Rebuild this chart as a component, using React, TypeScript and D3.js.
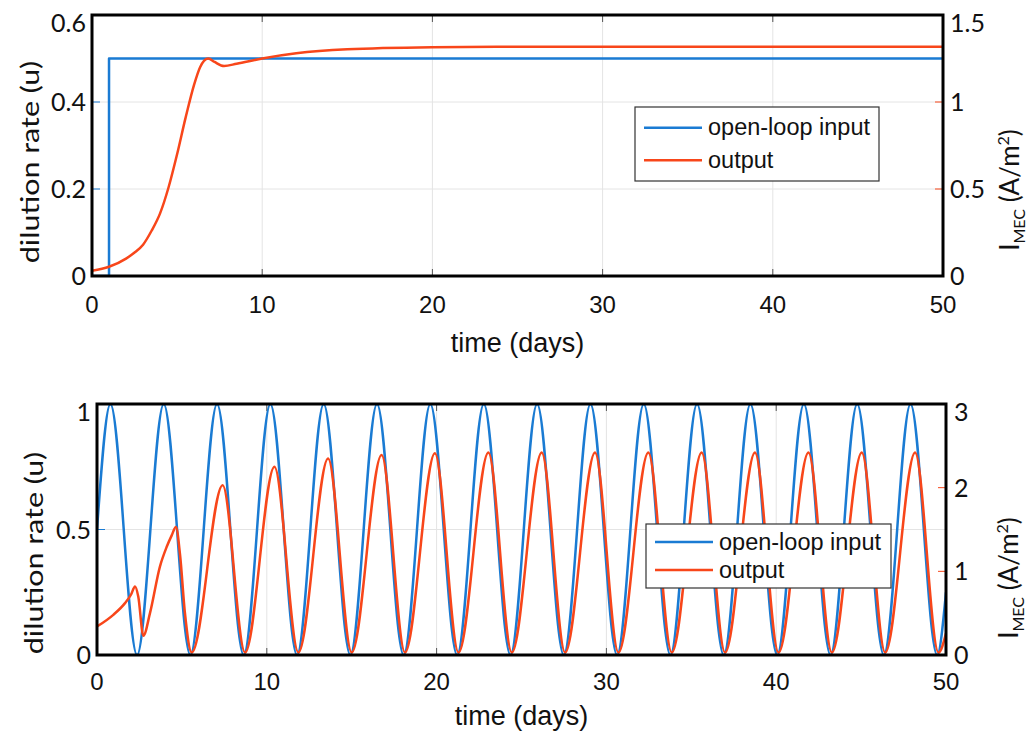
import React from 'react';
import * as d3 from 'd3';

// ---------- data ----------
const timeTicks = [0, 10, 20, 30, 40, 50];
const topLeftTicks = [0, 0.2, 0.4, 0.6];
const topRightTicks = [0, 0.5, 1, 1.5];
const botLeftTicks = [0, 0.5, 1];
const botRightTicks = [0, 1, 2, 3];
const legendLabels = ['open-loop input', 'output'];

// top panel: step input (dilution rate) and output (I_MEC)
const stepTimes = [0, 1, 1, 50];
const stepInput = [0, 0, 0.5, 0.5];
const stepOutTimes = [0, 1, 2, 2.5, 3, 3.5, 4, 4.5, 5, 5.5, 6, 6.35, 6.83, 7.2, 7.76, 8.5, 10, 12, 15, 20, 25, 30, 40, 50];
const stepOutput = [0.03, 0.053, 0.1, 0.135, 0.18, 0.26, 0.36, 0.51, 0.7, 0.91, 1.1, 1.2, 1.25, 1.23, 1.207, 1.22, 1.25, 1.28, 1.303, 1.315, 1.318, 1.318, 1.318, 1.318];

// bottom panel: sinusoidal input, extrema
const sineTimes = [0, 0.79, 2.36, 3.93, 5.5, 7.07, 8.64, 10.21, 11.78, 13.35, 14.92, 16.49, 18.06, 19.63, 21.21, 22.78, 24.35, 25.92, 27.49, 29.06, 30.63, 32.2, 33.77, 35.34, 36.91, 38.48, 40.06, 41.63, 43.2, 44.77, 46.34, 47.91, 49.48, 50];
const sineInput = [0.5, 1, 0, 1, 0, 1, 0, 1, 0, 1, 0, 1, 0, 1, 0, 1, 0, 1, 0, 1, 0, 1, 0, 1, 0, 1, 0, 1, 0, 1, 0, 1, 0, 0.25];
const sineOutTimes = [0, 0.96, 1.65, 2.0, 2.24, 2.43, 2.73, 3.12, 3.71, 4.1, 4.4, 4.65, 4.89, 5.18, 5.58, 7.4, 8.72, 10.45, 11.86, 13.61, 15.0, 16.76, 18.14, 19.9, 21.29, 23.05, 24.43, 26.19, 27.57, 29.33, 30.71, 32.47, 33.85, 35.61, 36.99, 38.75, 40.14, 41.9, 43.28, 45.04, 46.42, 48.18, 49.56, 50];
const sineOutput = [0.34, 0.48, 0.62, 0.72, 0.82, 0.7, 0.23, 0.5, 1.06, 1.29, 1.43, 1.53, 1.2, 0.5, 0.03, 2.03, 0.03, 2.25, 0.03, 2.35, 0.03, 2.39, 0.03, 2.41, 0.03, 2.42, 0.03, 2.42, 0.03, 2.42, 0.03, 2.42, 0.03, 2.42, 0.03, 2.42, 0.03, 2.42, 0.03, 2.42, 0.03, 2.42, 0.03, 0.26];

// ---------- styles ----------
const BLUE = '#1a7bd3';
const ORANGE = '#f8461a';
const GRID = '#e4e4e4';

type PanelProps = {
  id: string;
  x0: number; x1: number; y0: number; y1: number;
  leftMax: number; rightMax: number;
  leftTicks: number[]; rightTicks: number[];
  inT: number[]; inV: number[]; inCurve: any;
  outT: number[]; outV: number[];
  legend: { x: number; y: number; w: number; h: number };
  xTickBase: number; xLabelBase: number;
  yLabelX: number; yLabelCy: number; rLabelX: number; rLabelCy: number;
  leftGap: number; rightGap: number;
};

function Panel(p: PanelProps) {
  const x = d3.scaleLinear().domain([0, 50]).range([p.x0, p.x1]);
  const yl = d3.scaleLinear().domain([0, p.leftMax]).range([p.y1, p.y0]);
  const yr = d3.scaleLinear().domain([0, p.rightMax]).range([p.y1, p.y0]);
  const inPts = p.inT.map((t, i) => [t, p.inV[i]] as [number, number]);
  const outPts = p.outT.map((t, i) => [t, p.outV[i]] as [number, number]);
  const inLine = d3.line<[number, number]>().x(d => x(d[0])).y(d => yl(d[1])).curve(p.inCurve);
  const outLine = d3.line<[number, number]>().x(d => x(d[0])).y(d => yr(d[1])).curve(d3.curveMonotoneX);
  const tickFont = 'Lato, "Open Sans", sans-serif';
  const sansFont = '"Liberation Sans", Arial, sans-serif';
  const clampY = (v: number) => Math.max(v, p.y0 + 8);
  return (
    <g>
      <defs>
        <clipPath id={p.id}>
          <rect x={p.x0} y={p.y0} width={p.x1 - p.x0} height={p.y1 - p.y0} />
        </clipPath>
      </defs>
      <rect x={p.x0} y={p.y0} width={p.x1 - p.x0} height={p.y1 - p.y0} fill="#fff" />
      {timeTicks.slice(1, -1).map(t => (
        <line key={'gx' + t} x1={x(t)} x2={x(t)} y1={p.y0} y2={p.y1} stroke={GRID} strokeWidth={1} />
      ))}
      {p.leftTicks.slice(1, -1).map(v => (
        <line key={'gy' + v} x1={p.x0} x2={p.x1} y1={yl(v)} y2={yl(v)} stroke={GRID} strokeWidth={1} />
      ))}
      {timeTicks.slice(1, -1).map(t => (
        <g key={'tx' + t}>
          <line x1={x(t)} x2={x(t)} y1={p.y1} y2={p.y1 - 7} stroke="#555" strokeWidth={1} />
          <line x1={x(t)} x2={x(t)} y1={p.y0} y2={p.y0 + 7} stroke="#555" strokeWidth={1} />
        </g>
      ))}
      {p.leftTicks.map(v => (
        <line key={'tl' + v} x1={p.x0} x2={p.x0 + 8} y1={yl(v)} y2={yl(v)} stroke={BLUE} strokeWidth={1} />
      ))}
      {p.rightTicks.map(v => (
        <line key={'tr' + v} x1={p.x1} x2={p.x1 - 8} y1={yr(v)} y2={yr(v)} stroke={ORANGE} strokeWidth={1} />
      ))}
      <g clipPath={`url(#${p.id})`}>
        <path d={inLine(inPts) || ''} fill="none" stroke={BLUE} strokeWidth={2.5} strokeLinejoin="round" />
        <path d={outLine(outPts) || ''} fill="none" stroke={ORANGE} strokeWidth={2.5} strokeLinejoin="round" />
      </g>
      <rect x={p.x0} y={p.y0} width={p.x1 - p.x0} height={p.y1 - p.y0} fill="none" stroke="#000" strokeWidth={3} />
      {/* x tick labels */}
      {timeTicks.map(t => (
        <text key={'xl' + t} x={x(t)} y={p.xTickBase} textAnchor="middle" fontFamily={sansFont} fontSize={24} fill="#111">{t}</text>
      ))}
      <text x={(p.x0 + p.x1) / 2} y={p.xLabelBase} textAnchor="middle" fontFamily={sansFont} fontSize={27} fill="#111">time (days)</text>
      {/* left tick labels */}
      {p.leftTicks.map(v => (
        <text key={'ll' + v} x={p.x0 - p.leftGap} y={clampY(yl(v))} dy="0.36em" textAnchor="end" fontFamily={tickFont} fontSize={25} fill="#111">{String(v)}</text>
      ))}
      {/* right tick labels */}
      {p.rightTicks.map(v => (
        <text key={'rl' + v} x={p.x1 + p.rightGap} y={clampY(yr(v))} dy="0.36em" textAnchor="start" fontFamily={tickFont} fontSize={25} fill="#111">{String(v)}</text>
      ))}
      {/* axis labels */}
      <text transform={`translate(${p.yLabelX},${p.yLabelCy}) rotate(-90) scale(1.22,1)`} textAnchor="middle" fontFamily={tickFont} fontSize={25} fill="#111">dilution rate (u)</text>
      <text transform={`translate(${p.rLabelX},${p.rLabelCy}) rotate(-90)`} textAnchor="middle" fontFamily={tickFont} fontSize={26} fill="#111">
        <tspan>I</tspan>
        <tspan dy={6} fontSize={16}>MEC</tspan>
        <tspan dy={-6}>{' (A/m'}</tspan>
        <tspan dy={-10} fontSize={16}>2</tspan>
        <tspan dy={10}>)</tspan>
      </text>
      {/* legend */}
      <g>
        <rect x={p.legend.x} y={p.legend.y} width={p.legend.w} height={p.legend.h} fill="#fff" stroke="#333" strokeWidth={1.2} />
        {legendLabels.map((lab, i) => {
          const ly = p.legend.y + p.legend.h * (i === 0 ? 0.28 : 0.72);
          return (
            <g key={lab}>
              <line x1={p.legend.x + 9} x2={p.legend.x + 67} y1={ly} y2={ly} stroke={i === 0 ? BLUE : ORANGE} strokeWidth={2.5} />
              <text x={p.legend.x + 73} y={ly} dy="0.33em" fontFamily={sansFont} fontSize={23.5} fill="#111">{lab}</text>
            </g>
          );
        })}
      </g>
    </g>
  );
}

export default function App() {
  return (
    <svg width={1035} height={733} style={{ position: 'absolute', left: 0, top: 0, background: '#fff' }}>
      <rect x={0} y={0} width={1035} height={733} fill="#fff" />
      <Panel
        id="clipTop"
        x0={92} x1={943} y0={15} y1={276}
        leftMax={0.6} rightMax={1.5}
        leftTicks={topLeftTicks} rightTicks={topRightTicks}
        inT={stepTimes} inV={stepInput} inCurve={d3.curveLinear}
        outT={stepOutTimes} outV={stepOutput}
        legend={{ x: 635, y: 107, w: 244, h: 74 }}
        xTickBase={313} xLabelBase={352}
        yLabelX={39} yLabelCy={162} rLabelX={1019} rLabelCy={190}
        leftGap={6} rightGap={7}
      />
      <Panel
        id="clipBot"
        x0={97} x1={946} y0={404} y1={655}
        leftMax={1} rightMax={3}
        leftTicks={botLeftTicks} rightTicks={botRightTicks}
        inT={sineTimes} inV={sineInput} inCurve={d3.curveMonotoneX}
        outT={sineOutTimes} outV={sineOutput}
        legend={{ x: 646, y: 524, w: 245, h: 64 }}
        xTickBase={690} xLabelBase={725}
        yLabelX={43} yLabelCy={553} rLabelX={1018} rLabelCy={578}
        leftGap={6} rightGap={8}
      />
    </svg>
  );
}
